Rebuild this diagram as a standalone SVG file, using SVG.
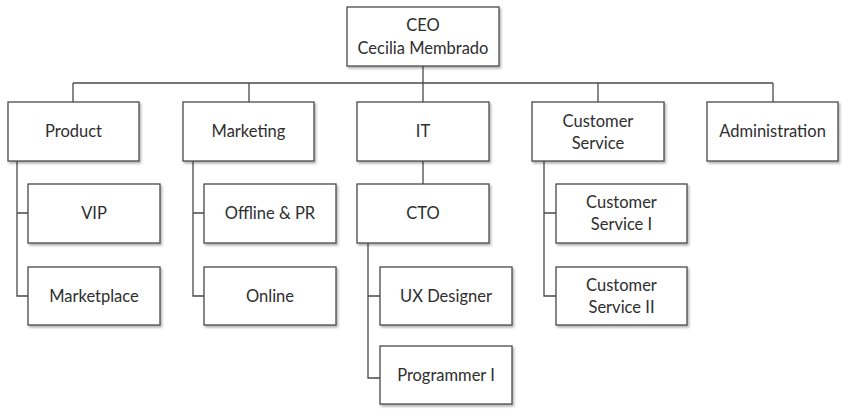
<svg xmlns="http://www.w3.org/2000/svg" width="850" height="417" viewBox="0 0 850 417">
<defs>
<filter id="sh" x="-10%" y="-10%" width="125%" height="130%">
<feDropShadow dx="1.5" dy="2" stdDeviation="1.2" flood-color="#000" flood-opacity="0.3"/>
</filter>
<style>
.box{fill:#fff;stroke:#4a4a4a;stroke-width:1.3;filter:url(#sh)}
.t{font-family:Lato,"Open Sans",sans-serif;font-size:16.5px;fill:#2e2e2e;text-anchor:middle}
.c{fill:none;stroke:#4a4a4a;stroke-width:1.3}
</style>
</defs>
<rect width="850" height="417" fill="#fff"/>
<g id="connectors">
<path class="c" d="M423 66V83M73 83H773M73 83V102M249 83V102M423 83V102M598 83V102M773 83V102"/>
<path class="c" d="M17 161V296H28M17 213H28"/>
<path class="c" d="M193 161V296H204M193 213H204"/>
<path class="c" d="M423 161V184"/>
<path class="c" d="M368 243V378H380M368 296H380"/>
<path class="c" d="M544 161V296H556M544 213H556"/>
</g>
<g id="ceo"><rect class="box" x="347" y="7" width="152" height="59"/><text class="t" x="423" y="31">CEO</text><text class="t" x="423" y="54">Cecilia Membrado</text></g>
<g id="product"><rect class="box" x="8" y="102" width="131" height="59"/><text class="t" x="73.5" y="137">Product</text></g>
<g id="marketing"><rect class="box" x="183" y="102" width="131" height="59"/><text class="t" x="248.5" y="137">Marketing</text></g>
<g id="it"><rect class="box" x="357" y="102" width="132" height="59"/><text class="t" x="423" y="137">IT</text></g>
<g id="customer-service"><rect class="box" x="532" y="102" width="132" height="59"/><text class="t" x="598" y="127">Customer</text><text class="t" x="598" y="149">Service</text></g>
<g id="administration"><rect class="box" x="707" y="102" width="131" height="59"/><text class="t" x="772.5" y="137">Administration</text></g>
<g id="vip"><rect class="box" x="28" y="184" width="132" height="59"/><text class="t" x="94" y="219">VIP</text></g>
<g id="marketplace"><rect class="box" x="28" y="267" width="132" height="58"/><text class="t" x="94" y="302">Marketplace</text></g>
<g id="offline-pr"><rect class="box" x="204" y="184" width="132" height="59"/><text class="t" x="270" y="219">Offline &amp; PR</text></g>
<g id="online"><rect class="box" x="204" y="267" width="132" height="58"/><text class="t" x="270" y="302">Online</text></g>
<g id="cto"><rect class="box" x="357" y="184" width="132" height="59"/><text class="t" x="423" y="219">CTO</text></g>
<g id="ux-designer"><rect class="box" x="380" y="267" width="132" height="58"/><text class="t" x="446" y="302">UX Designer</text></g>
<g id="programmer-i"><rect class="box" x="380" y="346" width="132" height="58"/><text class="t" x="446" y="381">Programmer I</text></g>
<g id="customer-service-i"><rect class="box" x="556" y="184" width="131" height="59"/><text class="t" x="621.5" y="208">Customer</text><text class="t" x="621.5" y="230">Service I</text></g>
<g id="customer-service-ii"><rect class="box" x="556" y="267" width="131" height="58"/><text class="t" x="621.5" y="291">Customer</text><text class="t" x="621.5" y="313">Service II</text></g>
</svg>
